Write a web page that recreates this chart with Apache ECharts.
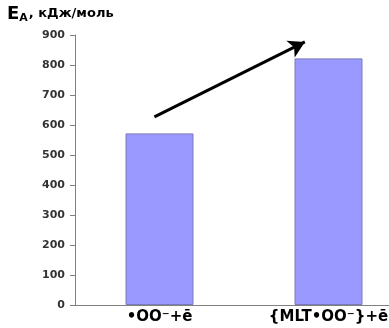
<!DOCTYPE html>
<html><head><meta charset="utf-8">
<script src="https://cdn.jsdelivr.net/npm/echarts@6/dist/echarts.min.js"></script>
<style>html,body{margin:0;padding:0;background:#fff;overflow:hidden}#c{width:413px;height:328px}</style>
</head><body><div id="c"></div>
<script>
const categories = ['•OO⁻+ē', '{MLT•OO⁻}+ē'];
const values = [572, 822];
const yTicks = [0, 100, 200, 300, 400, 500, 600, 700, 800, 900];
// arrow endpoints in data space: [category position, value]
const arrowStart = [-0.03, 627];
const arrowEnd = [0.86, 877];

const chart = echarts.init(document.getElementById('c'));
chart.setOption({
  animation: false,
  grid: {left: 75, right: 0, top: 35, bottom: 23},
  graphic: [{
    type: 'text', left: 7, top: 5,
    style: {
      text: '{e|E}{s|А}{u|, кДж/моль}',
      rich: {
        e: {fontSize: 18, fontWeight: 'bold', fontFamily: 'DejaVu Sans', fill: '#000'},
        s: {fontSize: 11, fontWeight: 'bold', fontFamily: 'DejaVu Sans', fill: '#000', padding: [9, 1, 0, 0]},
        u: {fontSize: 13, fontWeight: 'bold', fontFamily: 'DejaVu Sans', fill: '#000'}
      }
    }
  }],
  xAxis: [{
    type: 'category', data: categories,
    axisLine: {lineStyle: {color: '#808080', width: 1}},
    axisTick: {show: false},
    axisLabel: {color: '#000', fontSize: 15, fontWeight: 'bold', fontFamily: 'DejaVu Sans', margin: 5, interval: 0}
  }, {
    type: 'value', min: -0.5, max: 1.5, show: false
  }],
  yAxis: {
    type: 'value', min: 0, max: 900, interval: 100,
    axisLine: {show: true, onZero: false, lineStyle: {color: '#808080'}},
    axisTick: {show: true, length: 5, lineStyle: {color: '#808080'}},
    splitLine: {show: false},
    axisLabel: {color: '#333', fontSize: 11, fontWeight: 'bold', fontFamily: 'DejaVu Sans', margin: 10,
      formatter: v => yTicks.includes(v) ? String(v) : ''}
  },
  series: [{
    type: 'bar', data: values, barWidth: 68, xAxisIndex: 0,
    itemStyle: {color: '#9999ff', borderColor: '#7a7ab8', borderWidth: 1}
  }, {
    type: 'line', xAxisIndex: 1, data: [arrowStart, arrowEnd],
    symbol: 'none', showSymbol: false, silent: true,
    lineStyle: {opacity: 0},
    markLine: {
      silent: true, symbol: ['none', 'arrow'], symbolSize: [14, 16],
      lineStyle: {color: '#000', width: 3, type: 'solid'},
      label: {show: false},
      data: [[{coord: arrowStart}, {coord: arrowEnd}]]
    }
  }]
});
</script></body></html>
